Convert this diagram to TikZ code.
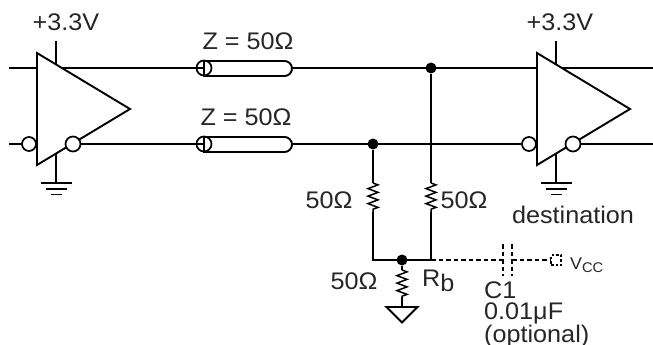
\documentclass[tikz,border=0pt]{standalone}
\usepackage{fontspec}
\setmainfont[FakeStretch=1.05]{Liberation Sans}
\usetikzlibrary{decorations.pathmorphing}
\tikzset{
  wire/.style={line width=1.9pt},
  dashwire/.style={line width=1.1pt, dash pattern=on 4.5pt off 3pt},
  bubble/.style={circle, draw, line width=1.7pt, fill=white, inner sep=0pt, minimum size=14pt},
  junction/.style={circle, fill=black, inner sep=0pt, minimum size=11pt},
  resistor/.style={line width=1.5pt, decorate, decoration={zigzag, segment length=7.5pt, amplitude=5pt}},
  label/.style={inner sep=0pt, text=black!85, font=\fontsize{24}{26}\selectfont},
}
\begin{document}
\begin{tikzpicture}[x=1pt, y=-1pt]
          \useasboundingbox (0,0) rectangle (653,345);
          \clip (0,0) rectangle (653,345);

          % the two lines, end to end
          \coordinate (topL) at (9,67.7);
          \coordinate (topR) at (653,67.7);
          \coordinate (botL) at (9,144);
          \coordinate (botR) at (653,144);
          \draw[wire] (topL) -- (topR);
          \draw[wire] (botL) -- (botR);

          % terminations
          \node[junction] (j1) at (431,68) {};
          \node[junction] (j2) at (373,144) {};
          \node[junction] (j3) at (402,260) {};
          \coordinate (r1a) at (373,183);
          \coordinate (r1b) at (373,212);
          \coordinate (r2a) at (431,183);
          \coordinate (r2b) at (431,212);
          \coordinate (r3a) at (402,270);
          \coordinate (r3b) at (402,297);
          \coordinate (c1) at (373,260);
          \coordinate (c2) at (431,260);
          \coordinate (g) at (402,307);
          \draw[wire] (j2) -- (r1a) (r1b) -- (c1) -- (c2) -- (r2b) (r2a) -- (j1);
          \draw[wire] (j3) -- (r3a) (r3b) -- (g);
          \draw[resistor] (r1a) -- (r1b);
          \draw[resistor] (r2a) -- (r2b);
          \draw[resistor] (r3a) -- (r3b);
          \draw[wire] (g) -- ++(-15.5,0) -- ++(15.5,15.5) -- ++(15.5,-15.5) -- cycle;

          % coax
          \draw[wire, fill=white] (204,61) -- (284.5,61) arc[start angle=-90, end angle=90, radius=7.5] -- (204,76) -- cycle;
          \node[bubble, minimum size=15pt, fill=none] (cx1) at (204,68) {};
          \draw[wire, fill=white] (204,137) -- (284.5,137) arc[start angle=-90, end angle=90, radius=7.5] -- (204,152) -- cycle;
          \node[bubble, minimum size=15pt, fill=none] (cx2) at (204,144) {};

          % source
          \coordinate (vs) at (56,41);
          \coordinate (gs) at (56,183);
          \draw[wire] (vs) -- (56,80) (56,150) -- (gs);
          \draw[wire] (gs) ++(-15.5,0) -- ++(31,0) ++(-26,6) -- ++(21,0) ++(-16,5.5) -- ++(11,0);
          \draw[wire, fill=white, line join=miter] (37,53) -- (130,109) -- (37,165) -- cycle;
          \node[bubble] (s1) at (29,144) {};
          \node[bubble, minimum size=15pt] (s2) at (73,144) {};

          % destination
          \coordinate (vd) at (556,41);
          \coordinate (gd) at (556,183);
          \draw[wire] (vd) -- (556,80) (556,150) -- (gd);
          \draw[wire] (gd) ++(-15.5,0) -- ++(31,0) ++(-26,6) -- ++(21,0) ++(-16,5.5) -- ++(11,0);
          \draw[wire, fill=white, line join=miter] (537,53) -- (630,109) -- (537,165) -- cycle;
          \node[bubble] (d1) at (529,144) {};
          \node[bubble, minimum size=15pt] (d2) at (573,144) {};

          % optional capacitor
          \coordinate (p1) at (503,260);
          \coordinate (p2) at (512,260);
          \node[draw, dashwire, dash pattern=on 2.5pt off 2pt, inner sep=0pt, minimum size=10pt] (vcc) at (556,260) {};
          \draw[dashwire] (c2) -- (p1);
          \draw[dashwire] (p2) -- (vcc);
          \draw[dashwire] (503,244) -- (503,276);
          \draw[dashwire] (512,244) -- (512,276);

          \node[label] (l1) at (66,22) {+3.3V};
          \node[label] (l2) at (560,22) {+3.3V};
          \node[label] (l3) at (248,41) {Z = 50Ω};
          \node[label] (l4) at (246,117) {Z = 50Ω};
          \node[label] (l5) at (329,200) {50Ω};
          \node[label] (l6) at (464,200) {50Ω};
          \node[label] (l7) at (573,215) {destination};
          \node[label] (l8) at (354,281) {50Ω};
          \node[label, anchor=west] (l9) at (422,281) {R\raisebox{-5pt}{b}};
          \node[label, anchor=west] (l10) at (484,290) {C1};
          \node[label, anchor=west] (l11) at (484,313) {0.01μF};
          \node[label, anchor=west] (l12) at (484,336) {(optional)};
          \node[label, anchor=west, font=\fontsize{17}{18}\selectfont] (l13) at (570,265) {V\raisebox{-2.5pt}{\fontsize{14}{15}\selectfont CC}};
        \end{tikzpicture}
\end{document}
